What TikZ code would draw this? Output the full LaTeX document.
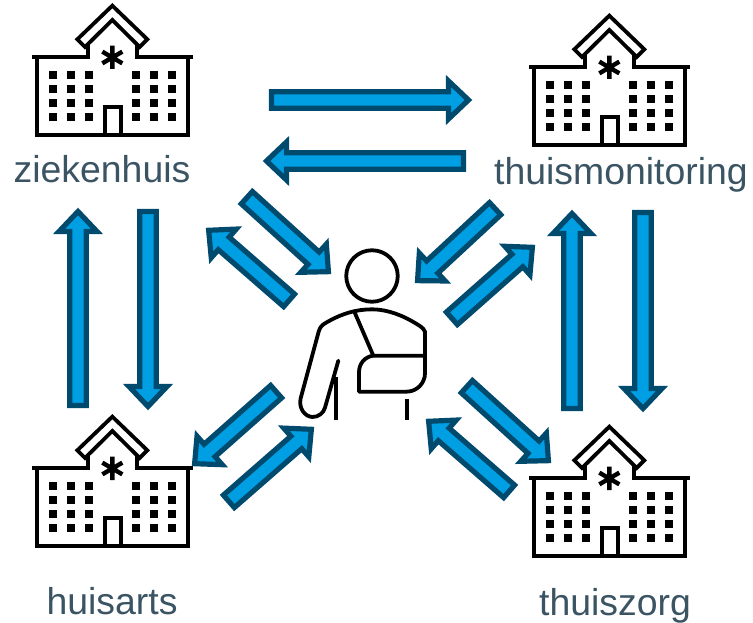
\documentclass[tikz,border=0pt]{standalone}
\usepackage{fontspec}
\setmainfont{Liberation Sans}
\usetikzlibrary{calc}
\definecolor{arrowfill}{HTML}{009FE3}
\definecolor{arrowedge}{HTML}{004A6E}
\definecolor{labelcol}{HTML}{3B5463}
\tikzset{
  blockarrow/.style={draw=arrowedge,fill=arrowfill,line width=5.2pt,miter limit=10,line join=miter},
  icon/.style={draw=black,line width=3.8pt,line join=miter,line cap=butt},
  iconround/.style={draw=black,line width=3.8pt,line join=round,line cap=round},
  lbl/.style={text=labelcol,font=\fontsize{37.4}{39}\selectfont,inner sep=0pt,anchor=base},
  hospital/.pic={
    \begin{scope}[xscale=1/3,yscale=1/3]
      \draw[icon] (277,17) -- (172,118) -- (195,141) -- (277,60) -- (359,141) -- (382,118) -- cycle;
      \draw[icon] (205,132) -- (205,172) -- (36,172);
      \draw[icon] (350,132) -- (350,172) -- (520,172);
      \draw[icon] (50,172) -- (50,405) -- (505,405) -- (505,172);
      \draw[icon] (255,405) -- (255,322) -- (302,322) -- (302,405);
      \draw[icon,line width=4.4pt] (277,137) -- (277,207) (247,155) -- (307,190) (247,190) -- (307,155);
      \foreach \wx in {98,152,206,347,401,455}
        \foreach \wy in {224,267,310,351}
          \fill[black] (\wx-12,\wy-12) rectangle (\wx+12,\wy+12);
    \end{scope}
  }
}
\newcommand{\barrow}[2]{%
  \coordinate (s) at ($(#1)!2.5pt!(#2)$);
  \coordinate (t) at ($(#2)!3.5pt!(#1)$);
  \coordinate (n) at ($(t)!20pt!(s)$);
  \draw[blockarrow] ($(s)!8.3pt!90:(t)$) -- ($(n)!8.3pt!-90:(s)$) -- ($(n)!19pt!-90:(s)$) -- (t)
     -- ($(n)!19pt!90:(s)$) -- ($(n)!8.3pt!90:(s)$) -- ($(s)!8.3pt!-90:(t)$) -- cycle;
}
\begin{document}
\begin{tikzpicture}[x=1pt,y=-1pt]
\useasboundingbox (0,0) rectangle (753,623);
\pic (h1) at (20,0) {hospital};
\pic (h2) at (517,10) {hospital};
\pic (h3) at (20,411) {hospital};
\pic (h4) at (517,421) {hospital};
\node[lbl] (zk) at (102,183) {ziekenhuis};
\node[lbl] (tm) at (621,185) {thuismonitoring};
\node[lbl] (ha) at (112,614) {huisarts};
\node[lbl] (tz) at (615,615) {thuiszorg};
% patient
\begin{scope}[shift={(290,240)},xscale=1/3,yscale=1/3]
  \node[circle,draw=black,line width=3.8pt,minimum size=51.5pt,inner sep=0pt] (patient) at (246,108) {};
  \draw[iconround] (405,347) -- (250,347) .. controls (225,350) and (207,370) .. (207,397) -- (207,455) -- (350,455) .. controls (380,455) and (405,430) .. (405,400) -- (405,275) .. controls (400,262) and (385,255) .. (365,243) .. controls (320,218) and (280,208) .. (246,208) .. controls (200,208) and (155,220) .. (105,250) .. controls (95,256) and (90,262) .. (86,275) -- (32,475) .. controls (25,505) and (45,530) .. (67,531) .. controls (85,531) and (100,520) .. (105,503) -- (145,362);
  \draw[iconround] (193,215) -- (250,347);
  \draw[icon] (137,410) -- (137,540) (351,478) -- (351,540);
\end{scope}
% arrows
\foreach \n/\x/\y in {a1/269/100,b1/472/100,a2/466/161,b2/263/161,a3/245/196,b3/331/274,a4/291/302,b4/206/228,a5/497/207,b5/415/283,a6/450/320,b6/535/245,a7/78/408,b7/78/208,a8/148/209,b8/148/410,a9/572/411,b9/572/210,a10/643/210,b10/643/412,a11/278/390,b11/192/466,a12/227/503,b12/314/427,a13/465/385,b13/551/463,a14/511/493,b14/426/419}
  \coordinate (\n) at (\x,\y);
\foreach \i in {1,...,14} {\barrow{a\i}{b\i}}
\end{tikzpicture}
\end{document}
